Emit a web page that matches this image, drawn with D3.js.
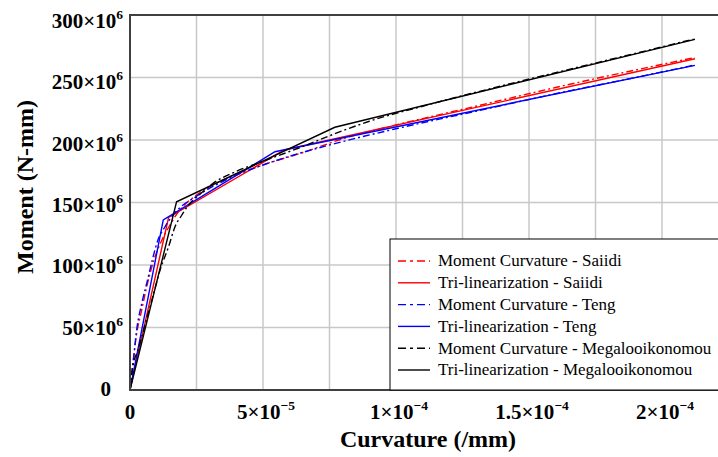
<!DOCTYPE html>
<html>
<head>
<meta charset="utf-8">
<script src="https://cdn.jsdelivr.net/npm/d3@7"></script>
<style>
  body { margin: 0; background: #fff; }
  svg { display: block; font-family: "Liberation Serif", "DejaVu Serif", serif; }
</style>
</head>
<body>
<svg id="chart" width="718" height="457"></svg>
<script>
// tick values and labels
const xTicks = [0, 5e-5, 1e-4, 1.5e-4, 2e-4];
const xTickBase = ["0", "5×10", "1×10", "1.5×10", "2×10"];
const xTickExp = ["", "−5", "−4", "−4", "−4"];
const yTicks = [0, 50e6, 100e6, 150e6, 200e6, 250e6, 300e6];
const yTickBase = ["0", "50×10", "100×10", "150×10", "200×10", "250×10", "300×10"];
const yTickExp = ["", "6", "6", "6", "6", "6", "6"];

// series: [curvature (/mm), moment (N-mm)]
const mcSaiidi = [[0, 0], [1e-6, 20e6], [2.5e-6, 45e6], [4.4e-6, 64e6], [6e-6, 80e6], [9e-6, 104e6],
  [1.2e-5, 120e6], [1.45e-5, 130e6], [1.8e-5, 142e6], [2.5e-5, 156e6], [3.5e-5, 168e6], [5e-5, 180e6],
  [6.5e-5, 190e6], [8e-5, 201e6], [1e-4, 212e6], [1.3e-4, 227e6], [1.6e-4, 242e6], [1.9e-4, 256e6], [2.124e-4, 266e6]];
const triSaiidi = [[0, 0], [1.45e-5, 138e6], [5.8e-5, 192e6], [2.124e-4, 265e6]];
const mcTeng = [[0, 0], [1e-6, 18e6], [2.5e-6, 48e6], [4.5e-6, 70e6], [6.6e-6, 88e6], [8.5e-6, 105e6],
  [1.05e-5, 120e6], [1.3e-5, 130e6], [1.7e-5, 142e6], [2.5e-5, 155e6], [3.5e-5, 167e6], [5e-5, 180e6],
  [6e-5, 187e6], [7.5e-5, 196e6], [1e-4, 209e6], [1.3e-4, 223e6], [1.6e-4, 237e6], [1.9e-4, 250e6], [2.124e-4, 260e6]];
const triTeng = [[0, 0], [1.25e-5, 136e6], [5.45e-5, 190.6e6], [2.124e-4, 259.7e6]];
const mcMega = [[0, 0], [1e-6, 18e6], [3e-6, 32e6], [6e-6, 55e6], [9e-6, 78e6], [1.13e-5, 96e6],
  [1.44e-5, 114e6], [1.7e-5, 131e6], [1.95e-5, 140e6], [2.2e-5, 148e6], [2.6e-5, 156e6], [3.1e-5, 165e6],
  [4e-5, 175e6], [5e-5, 183e6], [6.4e-5, 194e6], [7.7e-5, 205e6], [9e-5, 215e6], [1.1e-4, 227e6],
  [1.4e-4, 243.5e6], [1.7e-4, 259e6], [2e-4, 274.5e6], [2.124e-4, 281e6]];
const triMega = [[0, 0], [1.75e-5, 150.6e6], [7.7e-5, 210.2e6], [2.124e-4, 280.5e6]];

const seriesNames = [
  "Moment Curvature - Saiidi", "Tri-linearization - Saiidi",
  "Moment Curvature - Teng", "Tri-linearization - Teng",
  "Moment Curvature - Megalooikonomou", "Tri-linearization - Megalooikonomou"
];
const seriesData = [mcSaiidi, triSaiidi, mcTeng, triTeng, mcMega, triMega];
const seriesColors = ["#ff0000", "#ff0000", "#0000ff", "#0000ff", "#000000", "#000000"];
const seriesDashed = [true, false, true, false, true, false];

const svg = d3.select("#chart");

const x = d3.scaleLinear().domain([0, 2.25e-4]).range([130, 728.5]);
const y = d3.scaleLinear().domain([0, 300e6]).range([390, 15]);
// labels in the original sit on a slightly tighter spacing than the grid
const yLabel = d3.scaleLinear().domain([0, 300e6]).range([396, 28]);

const dashPattern = "7,3,2,3";

// grid
svg.append("g")
  .selectAll("line.vgrid")
  .data(d3.range(1, 9).map(i => i * 2.5e-5))
  .join("line")
    .attr("x1", d => x(d)).attr("x2", d => x(d))
    .attr("y1", y(0)).attr("y2", y(300e6))
    .attr("stroke", "#c8c8c8")
    .attr("stroke-width", 1.5);

svg.append("g")
  .selectAll("line.hgrid")
  .data(yTicks.slice(1, -1))
  .join("line")
    .attr("x1", x(0)).attr("x2", x(2.25e-4))
    .attr("y1", d => y(d)).attr("y2", d => y(d))
    .attr("stroke", "#c8c8c8")
    .attr("stroke-width", 1.5);

// data lines
svg.append("clipPath").attr("id", "plot-clip")
  .append("rect")
    .attr("x", x(0)).attr("y", y(300e6))
    .attr("width", x(2.25e-4) - x(0)).attr("height", y(0) - y(300e6));

const line = d3.line()
    .x(d => x(d[0]))
    .y(d => y(d[1]));

svg.append("g")
    .attr("clip-path", "url(#plot-clip)")
  .selectAll("path")
  .data(seriesData.map((d, i) => ({points: d, i})))
  .join("path")
    .attr("fill", "none")
    .attr("stroke", d => seriesColors[d.i])
    .attr("stroke-width", 1.4)
    .attr("stroke-dasharray", d => seriesDashed[d.i] ? dashPattern : null)
    .attr("d", d => seriesDashed[d.i]
        ? line.curve(d3.curveMonotoneX)(d.points)
        : line.curve(d3.curveLinear)(d.points));

// frame
svg.append("path")
    .attr("d", `M${x(2.25e-4)},${y(300e6)}H${x(0)}V${y(0)}H${x(2.25e-4)}`)
    .attr("fill", "none")
    .attr("stroke", "#404040")
    .attr("stroke-width", 2);

// y tick labels
const yLabels = svg.append("g")
    .attr("font-weight", "bold")
    .attr("font-size", 21)
    .attr("text-anchor", "end")
  .selectAll("text")
  .data(yTicks)
  .join("text")
    .attr("x", (d, i) => yTickExp[i] ? 123 : 111)
    .attr("y", d => yLabel(d));
yLabels.append("tspan").text((d, i) => yTickBase[i]);
yLabels.append("tspan")
    .attr("font-size", 13.5)
    .attr("dy", -9)
    .text((d, i) => yTickExp[i]);

// x tick labels
const xLabels = svg.append("g")
    .attr("font-weight", "bold")
    .attr("font-size", 21)
    .attr("text-anchor", "middle")
  .selectAll("text")
  .data(xTicks)
  .join("text")
    .attr("x", (d, i) => x(d) + (i ? 3 : 0))
    .attr("y", 419);
xLabels.append("tspan").text((d, i) => xTickBase[i]);
xLabels.append("tspan")
    .attr("font-size", 13.5)
    .attr("dy", -9)
    .text((d, i) => xTickExp[i]);

// axis titles
svg.append("text")
    .attr("x", 428)
    .attr("y", 447)
    .attr("text-anchor", "middle")
    .attr("font-weight", "bold")
    .attr("font-size", 24)
    .text("Curvature (/mm)");

svg.append("text")
    .attr("transform", "translate(33,187) rotate(-90)")
    .attr("text-anchor", "middle")
    .attr("font-weight", "bold")
    .attr("font-size", 24)
    .text("Moment (N-mm)");

// legend
const legend = svg.append("g").attr("transform", "translate(390,239)");
legend.append("rect")
    .attr("width", 340)
    .attr("height", 151)
    .attr("fill", "#fff")
    .attr("stroke", "#000")
    .attr("stroke-width", 1);

const rows = legend.selectAll("g.row")
  .data(seriesNames)
  .join("g")
    .attr("class", "row")
    .attr("transform", (d, i) => `translate(0,${22 + i * 21.8})`);

rows.append("line")
    .attr("x1", 8).attr("x2", 40)
    .attr("stroke", (d, i) => seriesColors[i])
    .attr("stroke-width", 1.4)
    .attr("stroke-dasharray", (d, i) => seriesDashed[i] ? "8,4,3,4" : null);

rows.append("text")
    .attr("x", 48)
    .attr("dy", "0.32em")
    .attr("font-size", 17)
    .text(d => d);
</script>
</body>
</html>
